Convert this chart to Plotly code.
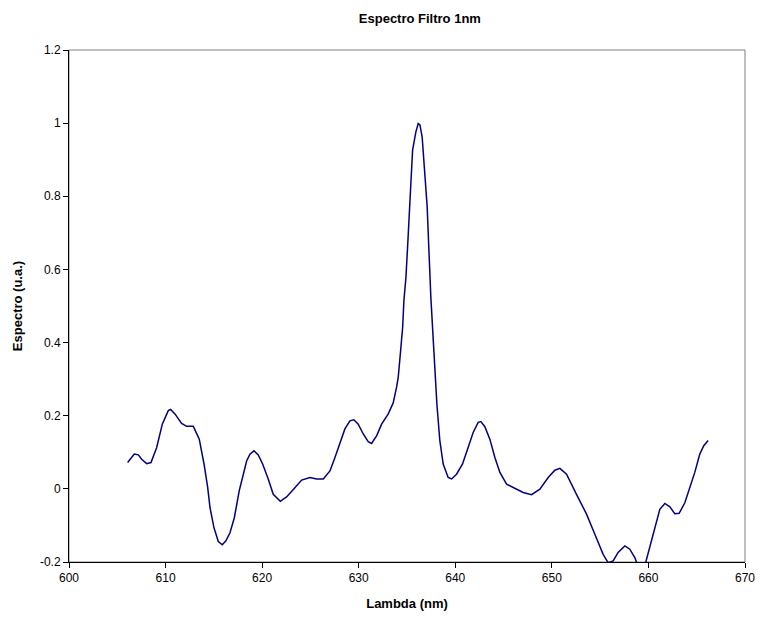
import plotly.graph_objects as go

# Wavelength (nm) and normalised spectrum (a.u.)
lam = [606.07, 606.76, 607.18, 607.52, 608.04, 608.49, 609.08, 609.66, 610.28, 610.52,
       610.97, 611.66, 612.18, 612.87, 613.49, 613.98, 614.36, 614.60, 615.01, 615.46,
       615.87, 616.25, 616.67, 617.12, 617.63, 618.05, 618.40, 618.74, 619.15, 619.60,
       620.05, 620.63, 621.15, 621.88, 622.53, 623.30, 624.09, 624.95, 625.64, 626.33,
       627.02, 627.54, 628.05, 628.57, 629.09, 629.50, 629.95, 630.47, 630.98, 631.33,
       631.85, 632.37, 633.06, 633.57, 633.92, 634.09, 634.34, 634.55, 634.68, 634.89,
       635.06, 635.20, 635.40, 635.58, 635.92, 636.16, 636.34, 636.57, 636.78, 637.09,
       637.27, 637.47, 637.78, 637.96, 638.10, 638.40, 638.75, 639.26, 639.62, 640.13,
       640.75, 641.33, 641.85, 642.37, 642.65, 643.06, 643.58, 644.10, 644.62, 645.31,
       646.17, 647.03, 647.90, 648.76, 649.62, 650.31, 650.83, 651.52, 652.55, 653.59,
       654.45, 655.31, 655.83, 656.35, 656.86, 657.56, 658.07, 658.59, 658.83, 659.20,
       659.73, 660.14, 660.66, 661.18, 661.70, 662.22, 662.73, 663.18, 663.77, 664.29,
       664.80, 665.32, 665.73, 666.18]
espectro = [0.072, 0.095, 0.093, 0.081, 0.069, 0.072, 0.113, 0.177, 0.214, 0.217,
            0.205, 0.179, 0.171, 0.171, 0.136, 0.068, 0.004, -0.051, -0.106, -0.144,
            -0.153, -0.142, -0.120, -0.079, -0.005, 0.036, 0.077, 0.095, 0.104, 0.093,
            0.068, 0.027, -0.015, -0.034, -0.022, 0.000, 0.024, 0.031, 0.027, 0.027,
            0.049, 0.086, 0.122, 0.164, 0.186, 0.189, 0.177, 0.150, 0.129, 0.124,
            0.145, 0.177, 0.205, 0.235, 0.278, 0.305, 0.378, 0.442, 0.515, 0.579,
            0.661, 0.753, 0.835, 0.926, 0.976, 0.999, 0.995, 0.962, 0.889, 0.771,
            0.652, 0.524, 0.378, 0.296, 0.230, 0.132, 0.068, 0.031, 0.027, 0.040,
            0.068, 0.113, 0.154, 0.182, 0.184, 0.170, 0.136, 0.086, 0.045, 0.013,
            0.001, -0.010, -0.016, -0.001, 0.031, 0.051, 0.056, 0.040, -0.015, -0.069,
            -0.124, -0.179, -0.202, -0.197, -0.174, -0.156, -0.165, -0.188, -0.205, -0.220,
            -0.200, -0.161, -0.106, -0.056, -0.040, -0.049, -0.068, -0.067, -0.038, 0.004,
            0.045, 0.095, 0.118, 0.132]

x_ticks = [600, 610, 620, 630, 640, 650, 660, 670]
y_ticks = [-0.2, 0, 0.2, 0.4, 0.6, 0.8, 1, 1.2]
y_tick_text = ["-0.2", "0", "0.2", "0.4", "0.6", "0.8", "1", "1.2"]

FONT = "Arial, Liberation Sans, sans-serif"

fig = go.Figure()
fig.add_trace(go.Scatter(x=lam, y=espectro, mode="lines",
                         line=dict(color="#000080", width=1.5), showlegend=False))

fig.update_layout(
    width=762, height=619,
    margin=dict(l=69, r=17, t=50, b=57),
    paper_bgcolor="white", plot_bgcolor="white",
    font=dict(family=FONT, size=12, color="black"),
    title=dict(text="<b>Espectro Filtro 1nm</b>", x=0.551, xanchor="center",
               y=1 - 18 / 619, yanchor="middle",
               font=dict(family=FONT, size=13, color="black")),
    xaxis=dict(range=[600, 670], tickvals=x_ticks, ticks="outside", ticklen=5,
               tickwidth=1, tickcolor="black", showline=True, linecolor="black",
               linewidth=1, showgrid=False, zeroline=False, automargin=False,
               title=dict(text="<b>Lambda (nm)</b>", standoff=14,
                          font=dict(family=FONT, size=13))),
    yaxis=dict(range=[-0.2, 1.2], tickvals=y_ticks, ticktext=y_tick_text,
               ticks="outside", ticklen=5, tickwidth=1, tickcolor="black",
               showline=True, linecolor="black", linewidth=1, showgrid=False,
               zeroline=False, automargin=False,
               title=dict(text="<b>Espectro (u.a.)</b>", standoff=14,
                          font=dict(family=FONT, size=13))),
    shapes=[dict(type="rect", xref="paper", yref="paper", x0=0, x1=1, y0=0, y1=1,
                 line=dict(color="#808080", width=1), layer="below")],
)

fig.write_html("out.html")
